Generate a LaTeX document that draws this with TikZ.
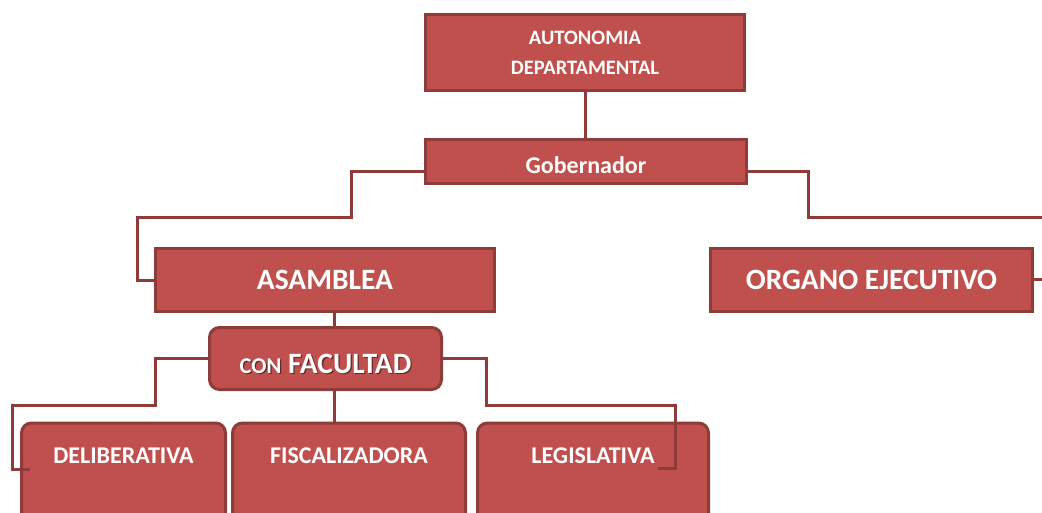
\documentclass[tikz,border=0pt]{standalone}
\usepackage{fontspec}
\setmainfont{Carlito}
\definecolor{boxfill}{HTML}{C0504D}
\definecolor{boxline}{HTML}{8E3B39}
\tikzset{
  sqbox/.style={draw=boxline, fill=boxfill, line width=3pt, text=white, font=\bfseries, inner sep=0pt},
  rdbox/.style={sqbox, rounded corners=10pt},
  conn/.style={draw=boxline, line width=3pt},
}
\newcommand{\confacultad}{{\fontsize{22.5}{24}\selectfont CON}{\fontsize{29.5}{31}\selectfont\ FACULTAD}}
\begin{document}
\begin{tikzpicture}[x=1pt,y=-1pt]
\useasboundingbox (0,0) rectangle (1042,512);
\clip (0,0) rectangle (1042,512);
% top
\node[sqbox, minimum width=319pt, minimum height=76pt, align=center,
      font=\bfseries\fontsize{20.5}{30}\selectfont] (auto) at (585,52.5)
      {AUTONOMIA\\DEPARTAMENTAL};
\node[sqbox, minimum width=321pt, minimum height=44pt, text height=23pt, text depth=0pt,
      font=\bfseries\fontsize{24}{26}\selectfont] (gob) at (586,161.5) {Gobernador};
\node[sqbox, minimum width=339pt, minimum height=63pt,
      font=\bfseries\fontsize{29.5}{31}\selectfont] (asam) at (325,280) {ASAMBLEA};
\node[sqbox, minimum width=322pt, minimum height=63pt,
      font=\bfseries\fontsize{29.5}{31}\selectfont] (org) at (871.5,280) {ORGANO EJECUTIVO};
% con facultad
\node[rdbox, minimum width=232pt, minimum height=62pt] (conf) at (325.5,358.5) {};
\node[text=boxline!70!black, font=\bfseries, inner sep=0pt] (confshadow) at ([xshift=1.3pt,yshift=-6.3pt]conf.center)
  {\confacultad};
\node[text=white, font=\bfseries, inner sep=0pt] (conftxt) at ([yshift=-5pt]conf.center)
  {\confacultad};
% bottom boxes
\tikzset{botbox/.style={rdbox, anchor=north, text height=40pt, text depth=92pt,
   font=\bfseries\fontsize{24}{26}\selectfont}}
\node[botbox, minimum width=204pt] (delib) at (123.5,421.5) {DELIBERATIVA};
\node[botbox, minimum width=233pt] (fisc) at (349,421.5) {FISCALIZADORA};
\node[botbox, minimum width=231pt] (legis) at (593,421.5) {LEGISLATIVA};
% free ends
\coordinate (offA) at (1042,217);
\coordinate (offB) at (1042,279);
\coordinate (endL) at (30,469);
\coordinate (endR) at (658,468);
% connectors
\draw[conn] (auto.south) -- (auto.south |- gob.north);
\draw[conn] ([yshift=-10pt]gob.west) -| (351,217) -| (137,280) -- (asam.west);
\draw[conn] ([yshift=-10pt]gob.east) -| (808,217) -- (offA);
\draw[conn] (org.east |- offB) -- (offB);
\draw[conn] ([xshift=9pt]asam.south) -- ([xshift=9pt]asam.south |- conf.north);
\draw[conn] (conf.west) -| (155,405) -| (12,469) -- (endL);
\draw[conn] (conf.east) -| (486,405) -| (675,468) -- (endR);
\draw[conn] ([xshift=9pt]conf.south) -- ([xshift=9pt]conf.south |- fisc.north);
\end{tikzpicture}
\end{document}
